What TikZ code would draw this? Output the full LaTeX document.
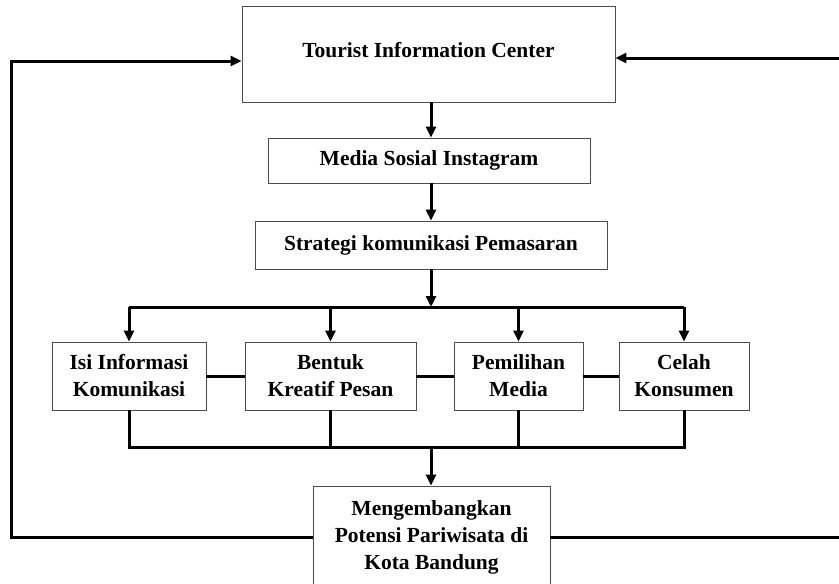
\documentclass[tikz,border=0pt]{standalone}
\usepackage{fontspec}
\setmainfont{Liberation Serif}
\usepackage{tikz}
\usetikzlibrary{positioning,calc,arrows.meta}

\begin{document}
\begin{tikzpicture}[
  x=1pt, y=-1pt,
  box/.style={rectangle, draw=black!70, fill=white, line width=0.9pt,
              inner sep=0pt, align=center, text=black,
              font=\fontsize{21.5}{27}\selectfont\bfseries},
  line/.style={line width=3pt, color=black},
  arr/.style={-{Triangle[length=11pt, width=10pt]}, line width=3pt, color=black},
]
  \useasboundingbox (0,0) rectangle (839,584);

  % Top chain
  \node[box, minimum width=373pt, minimum height=96pt] (tic) at (428.5,54) {\raisebox{9pt}{Tourist Information Center}};
  \node[box, minimum width=322pt, minimum height=45pt] (media) at (429,160.5) {Media Sosial Instagram};
  \node[box, minimum width=352pt, minimum height=48pt] (strat) at (431,245) {Strategi komunikasi Pemasaran};

  % Strategy elements
  \node[box, minimum width=154pt, minimum height=68pt] (isi) at (129,376) {Isi Informasi\\Komunikasi};
  \node[box, minimum width=171pt, minimum height=68pt] (bentuk) at (330.5,376) {Bentuk\\Kreatif Pesan};
  \node[box, minimum width=129pt, minimum height=68pt] (pilih) at (518.5,376) {Pemilihan\\Media};
  \node[box, minimum width=130pt, minimum height=68pt] (celah) at (684,376) {Celah\\Konsumen};

  % Outcome
  \node[box, minimum width=237pt, minimum height=102pt] (potensi) at (431.5,537) {Mengembangkan\\Potensi Pariwisata di\\Kota Bandung};

  % Junction points
  \coordinate (topbus) at (431,307);
  \coordinate (botbus) at (431,447);
  \coordinate (lcorner) at (11,61);
  \coordinate (redge) at (839,58);

  % Main flow
  \draw[arr] (tic.south -| topbus) -- (media.north -| topbus);
  \draw[arr] (media.south -| topbus) -- (strat.north -| topbus);
  \draw[arr] (strat.south -| topbus) -- (topbus);
  \draw[line] (isi.north |- topbus) -- (topbus -| celah.north);
  \draw[arr] (isi.north |- topbus) -- (isi);
  \draw[arr] (bentuk.north |- topbus) -- (bentuk);
  \draw[arr] (pilih.north |- topbus) -- (pilih);
  \draw[arr] (celah.north |- topbus) -- (celah);

  % Links between elements
  \draw[line] (isi) -- (bentuk);
  \draw[line] (bentuk) -- (pilih);
  \draw[line] (pilih) -- (celah);

  % Merge into outcome
  \draw[line] (isi.south) -- (isi.south |- botbus) -- (botbus -| celah.south) -- (celah.south);
  \draw[line] (bentuk.south) -- (bentuk.south |- botbus);
  \draw[line] (pilih.south) -- (pilih.south |- botbus);
  \draw[arr] (botbus) -- (potensi.north -| botbus);

  % Feedback loops
  \draw[arr] (potensi.west) -| (lcorner) -- (tic.west |- lcorner);
  \draw[line] (potensi.east) -- (potensi.east -| redge);
  \draw[arr] (redge) -- (tic.east |- redge);
\end{tikzpicture}
\end{document}
